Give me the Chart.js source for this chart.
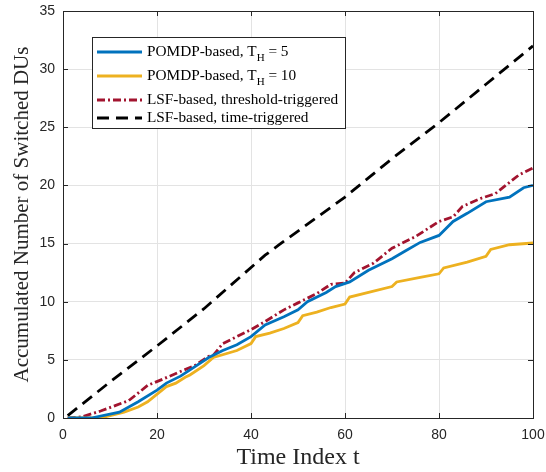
<!DOCTYPE html>
<html>
<head>
<meta charset="utf-8">
<script src="https://cdn.jsdelivr.net/npm/chart.js@4.4.1/dist/chart.umd.min.js"></script>
<style>
  body { margin: 0; background: #fff; }
  canvas { display: block; }
</style>
</head>
<body>
<canvas id="myChart" width="546" height="472"></canvas>
<script>
// values
const blueT = [1, 6, 12, 16, 20, 22, 25, 28, 31, 34, 37, 40, 43, 47, 50, 52, 56, 58, 61, 65, 70, 73, 76, 80, 83, 86, 90, 95, 98, 100];
const blueV = [0, 0, 0.5, 1.4, 2.4, 3.0, 3.6, 4.4, 5.2, 5.8, 6.3, 7.0, 8.0, 8.7, 9.3, 10.0, 10.8, 11.3, 11.7, 12.7, 13.7, 14.4, 15.1, 15.7, 16.9, 17.6, 18.6, 19.0, 19.8, 20.0];

const yellowT = [1, 8, 13, 16, 18, 22, 24, 26, 27, 30, 32, 37, 40, 41, 44, 47, 50, 51, 54, 57, 60, 61, 65, 70, 71, 76, 80, 81, 86, 90, 91, 95, 100];
const yellowV = [0, 0, 0.5, 0.95, 1.4, 2.7, 3.0, 3.5, 3.7, 4.5, 5.2, 5.8, 6.4, 7.0, 7.3, 7.7, 8.2, 8.8, 9.1, 9.5, 9.8, 10.4, 10.8, 11.3, 11.7, 12.1, 12.4, 12.9, 13.4, 13.9, 14.5, 14.9, 15.05];

const redT = [1, 4, 8, 14, 18, 21, 25, 28, 31, 32, 34, 36, 40, 43, 47, 50, 54, 57, 60, 62, 66, 70, 75, 80, 83, 85, 89, 92, 97, 100];
const redV = [0, 0.1, 0.6, 1.5, 2.8, 3.3, 4.0, 4.5, 5.3, 5.4, 6.4, 6.8, 7.6, 8.3, 9.3, 9.9, 10.7, 11.5, 11.6, 12.5, 13.3, 14.6, 15.6, 16.9, 17.3, 18.2, 18.9, 19.3, 20.9, 21.5];

const blackT = [1, 10, 20, 30, 43, 46, 60, 70, 80, 90, 100];
const blackV = [0.2, 3.1, 6.2, 9.4, 14.0, 14.9, 19.0, 22.3, 25.4, 28.7, 32.0];

const xTicks = [0, 20, 40, 60, 80, 100];
const yTicks = [0, 5, 10, 15, 20, 25, 30, 35];

// legend entries: [main text, subscript, after]
const legendItems = [
    ['POMDP-based, T', 'H', ' = 5'],
    ['POMDP-based, T', 'H', ' = 10'],
    ['LSF-based, threshold-triggered', '', ''],
    ['LSF-based, time-triggered', '', '']
];

function pts(t, v) {
    return t.map((x, i) => ({ x: x, y: v[i] }));
}

const axisColor = '#262626';

const boxPlugin = {
    id: 'box',
    afterDraw(chart) {
        const ctx = chart.ctx;
        const a = chart.chartArea;
        const xs = chart.scales.x, ys = chart.scales.y;
        ctx.save();
        ctx.strokeStyle = axisColor;
        ctx.lineWidth = 1;
        ctx.beginPath();
        xTicks.forEach(v => {
            const px = Math.round(xs.getPixelForValue(v)) + 0.5;
            ctx.moveTo(px, a.bottom); ctx.lineTo(px, a.bottom - 5);
            ctx.moveTo(px, a.top); ctx.lineTo(px, a.top + 5);
        });
        yTicks.forEach(v => {
            const py = Math.round(ys.getPixelForValue(v)) + 0.5;
            ctx.moveTo(a.left, py); ctx.lineTo(a.left + 5, py);
            ctx.moveTo(a.right, py); ctx.lineTo(a.right - 5, py);
        });
        ctx.stroke();
        ctx.strokeRect(Math.round(a.left) + 0.5, Math.round(a.top) + 0.5,
            Math.round(a.right - a.left), Math.round(a.bottom - a.top));

        // legend
        const lx = 92, ly = 37, lw = 253, lh = 91;
        ctx.fillStyle = '#fff';
        ctx.fillRect(lx, ly, lw, lh);
        ctx.strokeStyle = axisColor;
        ctx.strokeRect(lx + 0.5, ly + 0.5, lw, lh);
        const rows = [52, 76, 100, 118];
        chart.data.datasets.forEach((ds, i) => {
            const y = rows[i];
            ctx.strokeStyle = ds.borderColor;
            ctx.lineWidth = ds.borderWidth;
            ctx.setLineDash(ds.borderDash || []);
            ctx.beginPath();
            ctx.moveTo(97, y); ctx.lineTo(142, y);
            ctx.stroke();
            ctx.setLineDash([]);
            const it = legendItems[i];
            ctx.fillStyle = '#000';
            ctx.textBaseline = 'middle';
            ctx.font = '15.3px "Liberation Serif"';
            let x = 147;
            ctx.fillText(it[0], x, y);
            x += ctx.measureText(it[0]).width;
            if (it[1]) {
                ctx.font = '11px "Liberation Serif"';
                ctx.fillText(it[1], x, y + 6);
                x += ctx.measureText(it[1]).width;
                ctx.font = '15.3px "Liberation Serif"';
                ctx.fillText(it[2], x, y);
            }
        });
        ctx.restore();
    }
};

const data = {
    datasets: [
        { label: 'POMDP-based, T_H = 5', data: pts(blueT, blueV), borderColor: '#0072BD', borderWidth: 2.8 },
        { label: 'POMDP-based, T_H = 10', data: pts(yellowT, yellowV), borderColor: '#EDB120', borderWidth: 2.8 },
        { label: 'LSF-based, threshold-triggered', data: pts(redT, redV), borderColor: '#A2142F', borderWidth: 2.8, borderDash: [8, 3, 2, 3] },
        { label: 'LSF-based, time-triggered', data: pts(blackT, blackV), borderColor: '#000000', borderWidth: 2.8, borderDash: [12, 7] }
    ]
};

const config = {
    type: 'line',
    data: data,
    options: {
        responsive: false,
        animation: false,
        layout: { padding: { top: 11, right: 13, left: 0, bottom: 0 } },
        elements: { point: { radius: 0 }, line: { tension: 0, fill: false } },
        plugins: { legend: { display: false }, tooltip: { enabled: false } },
        scales: {
            x: {
                type: 'linear', min: 0, max: 100,
                afterFit(scale) { scale.height = 54; scale.paddingLeft = 0; scale.paddingRight = 0; },
                afterBuildTicks(scale) { scale.ticks = xTicks.map(v => ({ value: v })); },
                grid: { color: '#e3e3e3', drawTicks: false },
                border: { display: false },
                ticks: { color: axisColor, font: { family: '"Liberation Sans"', size: 14 }, padding: 9, maxRotation: 0 },
                title: { display: true, text: 'Time Index t', color: axisColor, font: { family: '"Liberation Serif"', size: 24 }, padding: { top: 0, bottom: 0 } }
            },
            y: {
                type: 'linear', min: 0, max: 35,
                afterFit(scale) { scale.width = 63; scale.paddingTop = 0; scale.paddingBottom = 0; },
                afterBuildTicks(scale) { scale.ticks = yTicks.map(v => ({ value: v })); },
                grid: { color: '#e3e3e3', drawTicks: false },
                border: { display: false },
                ticks: { color: axisColor, font: { family: '"Liberation Sans"', size: 14 }, padding: 8 },
                title: { display: true, text: 'Accumulated Number of Switched DUs', color: axisColor, font: { family: '"Liberation Serif"', size: 21 }, padding: { top: 10, bottom: 0 } }
            }
        }
    },
    plugins: [boxPlugin]
};

const myChart = new Chart(document.getElementById('myChart'), config);
</script>
</body>
</html>
